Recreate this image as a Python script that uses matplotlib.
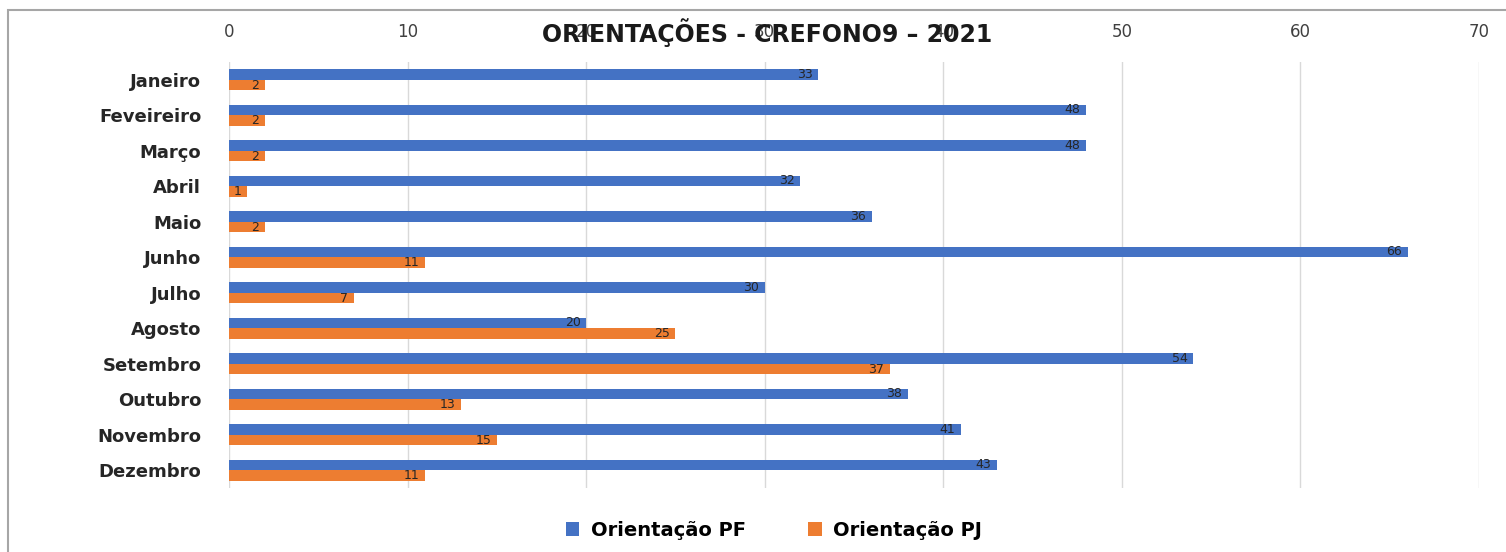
import numpy as np
import matplotlib.pyplot as plt
from matplotlib.patches import Rectangle

# data
meses = ['Janeiro', 'Feveireiro', 'Março', 'Abril', 'Maio', 'Junho', 'Julho',
         'Agosto', 'Setembro', 'Outubro', 'Novembro', 'Dezembro']
pf = [33, 48, 48, 32, 36, 66, 30, 20, 54, 38, 41, 43]
pj = [2, 2, 2, 1, 2, 11, 7, 25, 37, 13, 15, 11]
xticks = [0, 10, 20, 30, 40, 50, 60, 70]

color_pf = '#4472C4'
color_pj = '#ED7D31'

fig = plt.figure(figsize=(15.06, 5.52), dpi=100)
W, H = 1506, 552
ax = fig.add_axes([229 / W, 1 - 488 / H, (1479 - 229) / W, (488 - 62) / H])

y = np.arange(len(meses))
h = 0.30
barsPF = ax.barh(y - h / 2, pf, height=h, color=color_pf, label='Orientação PF')
barsPJ = ax.barh(y + h / 2, pj, height=h, color=color_pj, label='Orientação PJ')

for bars in (barsPF, barsPJ):
    for b in bars:
        v = b.get_width()
        ax.annotate(str(int(v)), xy=(v, b.get_y() + b.get_height() / 2),
                    xytext=(-4, 0), textcoords='offset points',
                    ha='right', va='center', fontsize=9, color='#262626')

ax.set_xlim(0, 70)
ax.set_ylim(len(meses) - 0.5, -0.5)
ax.set_xticks(xticks)
ax.set_yticks(y)
ax.set_yticklabels(meses, fontsize=13, fontweight='bold', color='#262626')
ax.xaxis.tick_top()
ax.tick_params(axis='x', length=0, labelsize=12, labelcolor='#404040', pad=15)
ax.tick_params(axis='y', length=0, pad=20)
ax.grid(axis='x', color='#D9D9D9', linewidth=1)
ax.set_axisbelow(True)
for s in ax.spines.values():
    s.set_visible(False)

# title sits on the tick label row, as in the original
fig.text(767 / W, 1 - 33 / H, 'ORIENTAÇÕES - CREFONO9 – 2021', ha='center', va='center',
         fontsize=17, fontweight='bold', color='#1a1a1a')

fig.legend(loc='center', bbox_to_anchor=(774 / W, 1 - 530 / H), ncol=2, frameon=False,
           prop={'size': 14, 'weight': 'bold'}, handlelength=0.7, handleheight=0.7,
           columnspacing=3.2, handletextpad=0.6)

# outer frame
fig.patches.append(Rectangle((8 / W, -0.05), 1.1, 1 - 10 / H + 0.05, transform=fig.transFigure,
                             fill=False, edgecolor='#A6A6A6', linewidth=1.5))

fig.savefig('out.png', dpi=100)
